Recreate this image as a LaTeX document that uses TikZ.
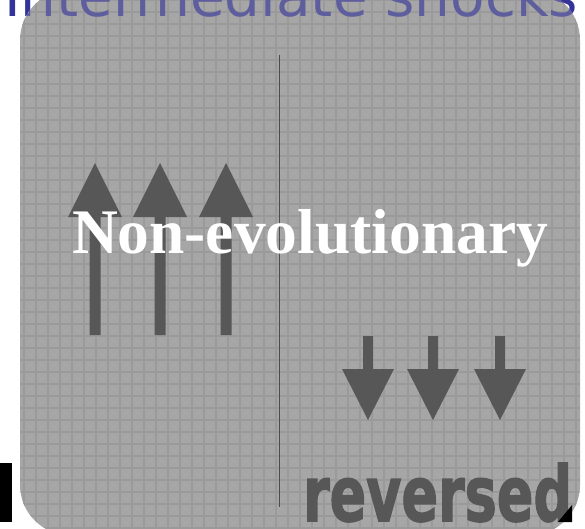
\documentclass[tikz,border=0pt]{standalone}
\usepackage{graphicx}
\usepackage{fontspec}
\setmainfont{Liberation Serif}
\newfontfamily\titlefont{DejaVu Sans}
\newfontfamily\revfont{DejaVu Sans}[BoldFeatures={FakeBold=2}]
\definecolor{titleblue}{HTML}{333399}
\definecolor{titleblend}{HTML}{5E5E9E}
\definecolor{panelgrey}{HTML}{A6A6A6}
\definecolor{gridgrey}{HTML}{9A9A9A}
\definecolor{arrowgrey}{HTML}{575757}
\tikzset{
  titletext/.style={anchor=base west, inner sep=0pt, outer sep=0pt},
  panel/.style={rounded corners=50pt},
  arrowshape/.style={fill=arrowgrey, draw=none},
  dividerline/.style={draw=black!70, line width=1pt},
}
\begin{document}
\begin{tikzpicture}[x=1pt,y=-1pt]
\useasboundingbox (0,0) rectangle (585,528);
% black bar behind panel
\fill[black] (0,463) rectangle (12,522);
% title (part over white)
\node[titletext, text=titleblue] (title) at (4,16) {\resizebox{574pt}{!}{\titlefont Intermediate shocks}};
% grey panel
\fill[panelgrey, panel] (20,-10) rectangle (580,535);
\begin{scope}
  \clip[panel] (20,-10) rectangle (580,535);
  \foreach \g in {0,12,...,588} {
    \draw[gridgrey, line width=1.2pt] (\g,-10) -- (\g,535);
  }
  \foreach \g in {0,12,...,528} {
    \draw[gridgrey, line width=1.2pt] (20,\g) -- (580,\g);
  }
  \node[titletext, text=titleblend] (titleshade) at (4,16) {\resizebox{574pt}{!}{\titlefont Intermediate shocks}};
\end{scope}
% divider
\coordinate (dtop) at (279,55);
\coordinate (dbot) at (279,507);
\draw[dividerline] (dtop) -- (dbot);
% up arrows
\foreach \cx in {95,160,226} {
  \fill[arrowshape] (\cx-5.5,335) -- (\cx-5.5,217) -- (\cx-27,217) -- (\cx,163)
    -- (\cx+27,217) -- (\cx+5.5,217) -- (\cx+5.5,335) -- cycle;
}
% down arrows
\foreach \cx in {368,433,500} {
  \fill[arrowshape] (\cx-5,336) -- (\cx-5,369) -- (\cx-26,369) -- (\cx,420)
    -- (\cx+26,369) -- (\cx+5,369) -- (\cx+5,336) -- cycle;
}
% labels
\node[titletext, text=white] (nonevo) at (72,253) {\resizebox{476pt}{!}{\bfseries Non-evolutionary}};
\node[titletext, text=arrowgrey] (rev) at (303,521) {\resizebox{269pt}{58pt}{\revfont\bfseries reversed}};
\fill[black] (558,522) -- (572,505) -- (572,522) -- cycle;
\end{tikzpicture}
\end{document}
